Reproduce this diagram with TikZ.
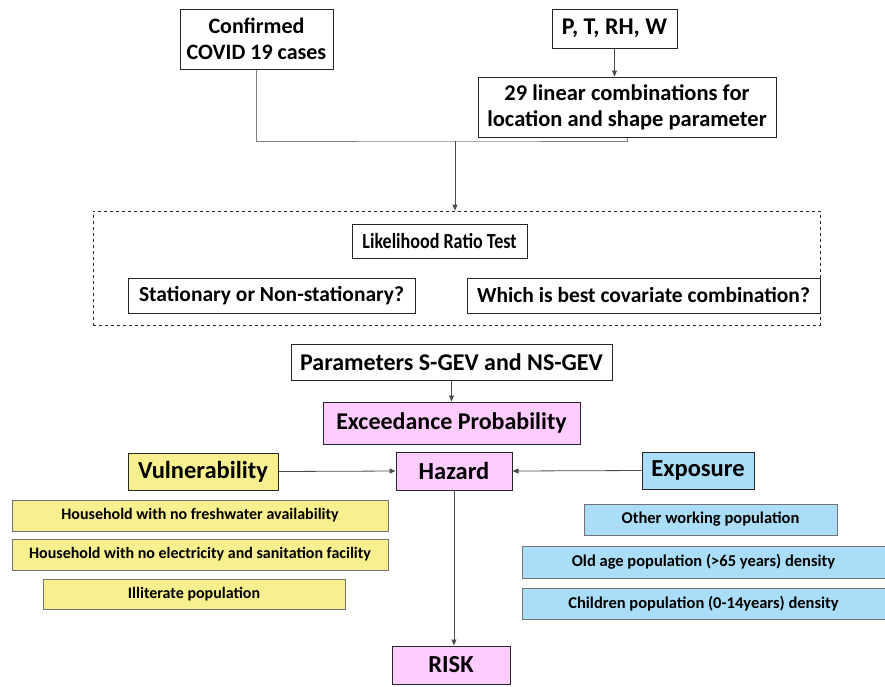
\documentclass[tikz,border=0pt]{standalone}
\usepackage{fontspec}
\setmainfont{Carlito}
\usetikzlibrary{arrows.meta}

\definecolor{riskpink}{HTML}{FFCCFF}
\definecolor{vulyellow}{HTML}{F8F08E}
\definecolor{expblue}{HTML}{AADEF8}

\begin{document}
\begin{tikzpicture}[x = 1pt, y = -1pt,
	box/.style = {draw = black!85, line width = 1pt, fill = white, inner sep = 0pt,
		align = center, font = \bfseries\fontsize{22.5}{26}\selectfont},
	test/.style = {box, font = \bfseries\fontsize{21.5}{25}\selectfont},
	pinkbox/.style = {box, fill = riskpink, font = \bfseries\fontsize{24.5}{28}\selectfont},
	factor/.style = {box, font = \bfseries\fontsize{24.5}{28}\selectfont},
	item/.style = {box, draw = black!55, font = \bfseries\fontsize{16.5}{19}\selectfont},
	wire/.style = {draw = black!50, line width = 0.8pt},
	arr/.style = {draw = black!70, line width = 0.8pt, -{Triangle[length = 6pt, width = 5pt]}}]

	\useasboundingbox (0,0) rectangle (885,686);

	% inputs
	\node[box, font = \bfseries\fontsize{22}{26}\selectfont, minimum width = 153, minimum height = 60] (CC) at (256.5,39) {Confirmed\\COVID 19 cases};
	\node[box, font = \bfseries\fontsize{24}{28}\selectfont, minimum width = 125, minimum height = 39] (PT) at (614.5,28.5) {P, T, RH, W};
	\node[box, minimum width = 298, minimum height = 60] (LC) at (627,107) {29 linear combinations for\\location and shape parameter};

	% model selection
	\node[draw = black!85, dashed, line width = 0.8pt, minimum width = 727, minimum height = 114] (MS) at (456.5,268) {};
	\node[test, minimum width = 175, minimum height = 34] (LRT) at (439.5,241) {\scalebox{0.84}[1]{Likelihood Ratio Test}};
	\node[test, minimum width = 287, minimum height = 35] (ST) at (271.5,295.5) {Stationary or Non-stationary?};
	\node[test, minimum width = 353, minimum height = 35] (BC) at (643.5,295.5) {Which is best covariate combination?};

	\node[box, font = \bfseries\fontsize{24}{28}\selectfont, minimum width = 321, minimum height = 36] (PAR) at (451.5,362) {Parameters S-GEV and NS-GEV};
	\node[pinkbox, font = \bfseries\fontsize{24}{28}\selectfont, minimum width = 257, minimum height = 42] (EP) at (451.5,423) {Exceedance Probability};

	% risk components
	\node[pinkbox, minimum width = 116, minimum height = 38] (HAZ) at (454,471) {Hazard};
	\node[factor, fill = vulyellow, minimum width = 150, minimum height = 37] (VUL) at (203,471.5) {Vulnerability};
	\node[factor, fill = expblue, minimum width = 112, minimum height = 37] (EXP) at (698,470.5) {Exposure};
	\node[pinkbox, minimum width = 118, minimum height = 38] (RISK) at (451,665) {RISK};

	\node[item, fill = vulyellow, font = \bfseries\fontsize{16}{19}\selectfont, minimum width = 376, minimum height = 31] (V1) at (200,515.5) {Household with no freshwater availability};
	\node[item, fill = vulyellow, font = \bfseries\fontsize{16}{19}\selectfont, minimum width = 376, minimum height = 31] (V2) at (200,554.5) {Household with no electricity and sanitation facility};
	\node[item, fill = vulyellow, font = \bfseries\fontsize{16}{19}\selectfont, minimum width = 302, minimum height = 30] (V3) at (194,594) {Illiterate population};

	\node[item, fill = expblue, minimum width = 253, minimum height = 31] (E1) at (710.5,519.5) {Other working population};
	\node[item, fill = expblue, minimum width = 363, minimum height = 32] (E2) at (703.5,562) {Old age population (>65 years) density};
	\node[item, fill = expblue, minimum width = 363, minimum height = 31] (E3) at (703.5,603.5) {Children population (0-14years) density};

	% connectors
	\coordinate (J) at (455,141);
	\draw[wire] (CC.south) |- (J) -| (LC.south);
	\draw[arr] (J) -- (J |- MS.north);
	\draw[arr] (PT.south) -- (PT.south |- LC.north);
	\draw[arr] (PAR.south) -- (EP.north);
	\draw[arr] (VUL.east) -- (HAZ.west);
	\draw[arr] (EXP.west) -- (HAZ.east);
	\draw[arr] (HAZ.south) -- (HAZ.south |- RISK.north);
\end{tikzpicture}
\end{document}
